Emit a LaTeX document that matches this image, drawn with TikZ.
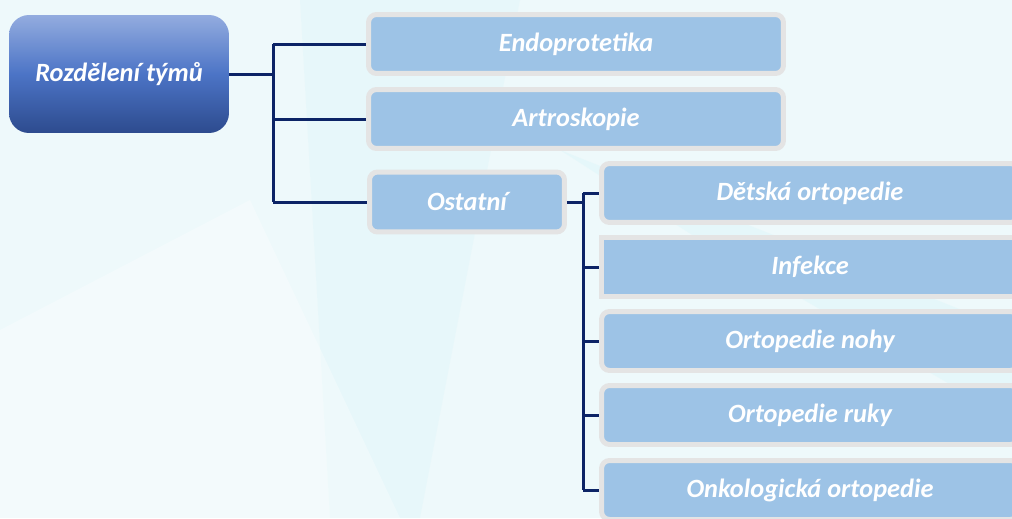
\documentclass[tikz,border=0pt]{standalone}
\usepackage{fontspec}
\setmainfont{Carlito}
\usetikzlibrary{positioning}

\definecolor{bgcyan}{HTML}{EEF9FB}
\definecolor{streak}{HTML}{D6F4FA}
\definecolor{boxblue}{HTML}{9DC3E6}
\definecolor{boxrim}{HTML}{E4E4E4}
\definecolor{navy}{HTML}{0C2466}
\definecolor{roottop}{HTML}{93ACDF}
\definecolor{rootmid}{HTML}{4C74C6}
\definecolor{rootbot}{HTML}{2D4B8E}

\begin{document}
\begin{tikzpicture}[x=0.02cm, y=-0.02cm,
    txt/.style={text=white, font=\fontsize{15}{17}\selectfont\bfseries\itshape},
    rootbox/.style={txt, rounded corners=0.4cm, minimum width=4.4cm, minimum height=2.36cm,
        top color=roottop, bottom color=rootbot, middle color=rootmid, draw=none},
    teambox/.style={txt, rounded corners=0.16cm, fill=boxblue, draw=boxrim, line width=0.1cm,
        minimum height=1.18cm, inner sep=0pt},
    link/.style={draw=navy, line width=0.06cm}]

    % pozadí
    \fill[bgcyan] (0,0) rectangle (1012,518);
    \fill[streak, opacity=0.35] (560,150) -- (1012,330) -- (1012,420) -- (700,240) -- cycle;
    \fill[streak, opacity=0.25] (300,0) -- (520,0) -- (420,518) -- (330,518) -- cycle;
    \fill[white, opacity=0.3] (0,330) -- (250,200) -- (400,518) -- (0,518) -- cycle;
    \useasboundingbox (0,0) rectangle (1012,518);

    % kořen
    \node[rootbox] (root) at (119,74) {Rozdělení týmů};

    % první úroveň
    \node[teambox, minimum width=8.3cm] (endo) at (576,44) {Endoprotetika};
    \node[teambox, minimum width=8.3cm] (artro) at (576,119) {Artroskopie};
    \node[teambox, minimum width=3.9cm, minimum height=1.2cm] (ost) at (467,202) {Ostatní};

    % druhá úroveň
    \node[teambox, minimum width=8.34cm] (detska) at (810,193) {Dětská ortopedie};
    \node[teambox, minimum width=8.34cm, rounded corners=0pt] (infekce) at (810,267) {Infekce};
    \node[teambox, minimum width=8.34cm] (noha) at (810,341) {Ortopedie nohy};
    \node[teambox, minimum width=8.34cm] (ruka) at (810,415) {Ortopedie ruky};
    \node[teambox, minimum width=8.34cm] (onko) at (810,490) {Onkologická ortopedie};

    % spojnice
    \coordinate (fork1) at (273,74);
    \draw[link] (root.east) -- (fork1);
    \draw[link] (fork1 |- endo) -- (fork1 |- ost);
    \draw[link] (fork1 |- endo) -- (endo.west);
    \draw[link] (fork1 |- artro) -- (artro.west);
    \draw[link] (fork1 |- ost) -- (ost.west);

    \coordinate (fork2) at (583,202);
    \draw[link] (ost.east) -- (fork2);
    \draw[link] (fork2 |- detska) -- (fork2 |- onko);
    \foreach \n in {detska,infekce,noha,ruka,onko}
        \draw[link] (fork2 |- \n) -- (\n.west);
\end{tikzpicture}
\end{document}
